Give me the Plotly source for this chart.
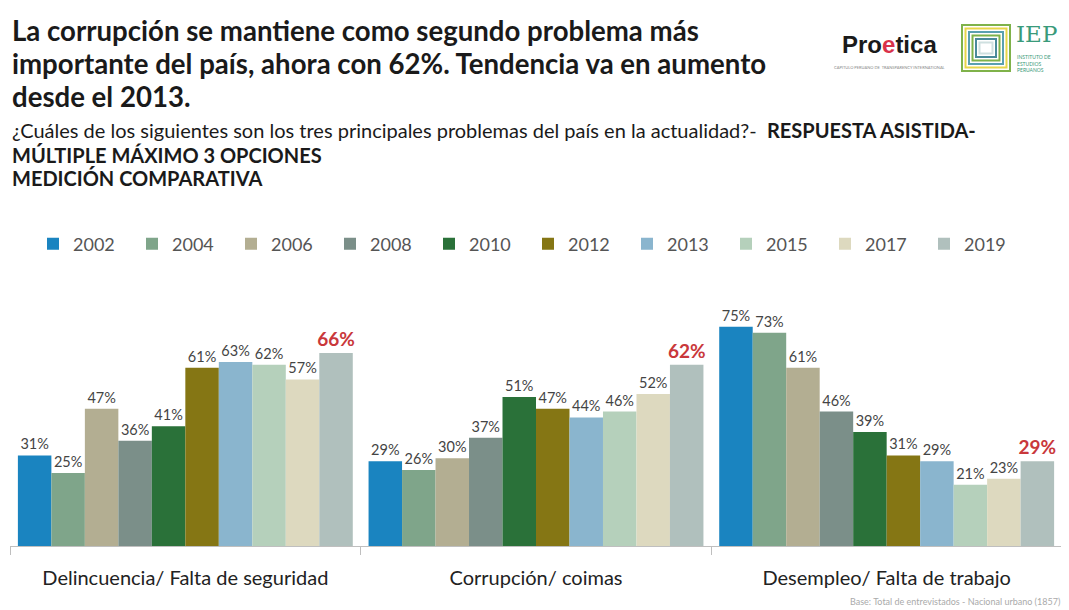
import plotly.graph_objects as go

categories = ["Delincuencia/ Falta de seguridad", "Corrupción/ coimas", "Desempleo/ Falta de trabajo"]
years = ["2002", "2004", "2006", "2008", "2010", "2012", "2013", "2015", "2017", "2019"]
v2002 = [31, 29, 75]
v2004 = [25, 26, 73]
v2006 = [47, 30, 61]
v2008 = [36, 37, 46]
v2010 = [41, 51, 39]
v2012 = [61, 47, 31]
v2013 = [63, 44, 29]
v2015 = [62, 46, 21]
v2017 = [57, 52, 23]
v2019 = [66, 62, 29]
series = [v2002, v2004, v2006, v2008, v2010, v2012, v2013, v2015, v2017, v2019]
colors = ["#1a84c0", "#7fa58a", "#b3ae92", "#7b8f89", "#2a7139",
          "#857614", "#8ab5ce", "#b5d0bb", "#ddd9bf", "#b0c0bd"]

OFF = 8  # page body margin
W, H = 1069 - OFF, 610 - OFF
L, R, T, B = 10 - OFF, 1062 - OFF, 290 - OFF, 546 - OFF


def px(x):
    return (x - OFF - L) / (R - L)


def py(y):
    return (B - (y - OFF)) / (B - T)


fig = go.Figure()
for i, (yr, vals) in enumerate(zip(years, series)):
    last = i == len(years) - 1
    fig.add_trace(go.Bar(
        name=yr, x=categories, y=vals, marker_color=colors[i], marker_line_width=0,
        text=[f"{v}%" for v in vals], textposition="outside", cliponaxis=False,
        constraintext="none",
        textfont=dict(family="Lato", size=19 if last else 14.5,
                      color="#c9383b" if last else "#444444",
                      weight="bold" if last else "normal"),
    ))

fig.update_layout(
    width=W, height=H, paper_bgcolor="white", plot_bgcolor="white",
    margin=dict(l=L, r=W - R, t=T, b=H - B),
    barmode="group", bargap=0.045, bargroupgap=0,
    font=dict(family="Lato", color="#222222"),
    legend=dict(orientation="h", x=px(33), xanchor="left", y=py(244), yanchor="middle",
                font=dict(size=18, color="#555555"), entrywidth=54, entrywidthmode="pixels",
                itemsizing="constant", traceorder="normal"),
    xaxis=dict(showline=True, linecolor="#bfbfbf", linewidth=1, ticks="outside",
               tickson="boundaries", ticklen=8, tickcolor="#bfbfbf",
               tickfont=dict(size=20, color="#222222"), ticklabelstandoff=14),
    yaxis=dict(range=[0, 87.6], visible=False),
)

anns = [
    dict(x=px(10), y=py(30), text="<b>La corrupción se mantiene como segundo problema más</b>", size=27.6),
    dict(x=px(10), y=py(63), text="<b>importante del país, ahora con 62%. Tendencia va en aumento</b>", size=27.6),
    dict(x=px(10), y=py(96), text="<b>desde el 2013.</b>", size=27.6),
    dict(x=px(10), y=py(130), text="¿Cuáles de los siguientes son los tres principales problemas del país en la actualidad?-  <b>RESPUESTA ASISTIDA-</b>", size=20),
    dict(x=px(10), y=py(155), text="<b>MÚLTIPLE MÁXIMO 3 OPCIONES</b>", size=20),
    dict(x=px(10), y=py(178), text="<b>MEDICIÓN COMPARATIVA</b>", size=20),
]
for a in anns:
    fig.add_annotation(x=a["x"], y=a["y"], xref="paper", yref="paper", xanchor="left",
                       yanchor="middle", showarrow=False, text=a["text"],
                       font=dict(size=a["size"], color="#1a1a1a", family="Lato"))

fig.add_annotation(x=px(1062), y=py(601), xref="paper", yref="paper", xanchor="right",
                   yanchor="middle", showarrow=False,
                   text="Base: Total de entrevistados - Nacional urbano (1857)",
                   font=dict(size=9, color="#aaaaaa", family="Lato"))

# Logos (approximation)
fig.add_annotation(x=px(889), y=py(44), xref="paper", yref="paper", showarrow=False,
                   xanchor="center", yanchor="middle",
                   text="<b>Pro<span style='color:#d9324a'>e</span>tica</b>",
                   font=dict(size=24, color="#1a1a1a", family="Liberation Sans"))
fig.add_annotation(x=px(889), y=py(67), xref="paper", yref="paper", showarrow=False,
                   xanchor="center", yanchor="middle",
                   text="CAPITULO PERUANO DE  TRANSPARENCY INTERNATIONAL",
                   font=dict(size=4, color="#888888"))
sq_colors = ["#7fb24a", "#e8d64a", "#5aa0b0", "#7fb24a", "#4a8a9a", "#cfe0e0"]
for k, c in enumerate(sq_colors):
    d = k * 3.5
    fig.add_shape(type="rect", xref="paper", yref="paper",
                  x0=px(962 + d), x1=px(1010 - d), y0=py(25 + d), y1=py(71 - d),
                  line=dict(color=c, width=2), fillcolor="white" if k == 0 else None)
fig.add_annotation(x=px(1014), y=py(34), xref="paper", yref="paper", xanchor="left",
                   yanchor="middle", showarrow=False, text="IEP",
                   font=dict(size=23, color="#3a9a7a", family="DejaVu Serif"))
fig.add_annotation(x=px(1015), y=py(63), xref="paper", yref="paper", xanchor="left",
                   yanchor="middle", showarrow=False,
                   text="INSTITUTO DE<br>ESTUDIOS<br>PERUANOS", align="left",
                   font=dict(size=5, color="#3a9a7a"))

fig.write_html("out.html")
